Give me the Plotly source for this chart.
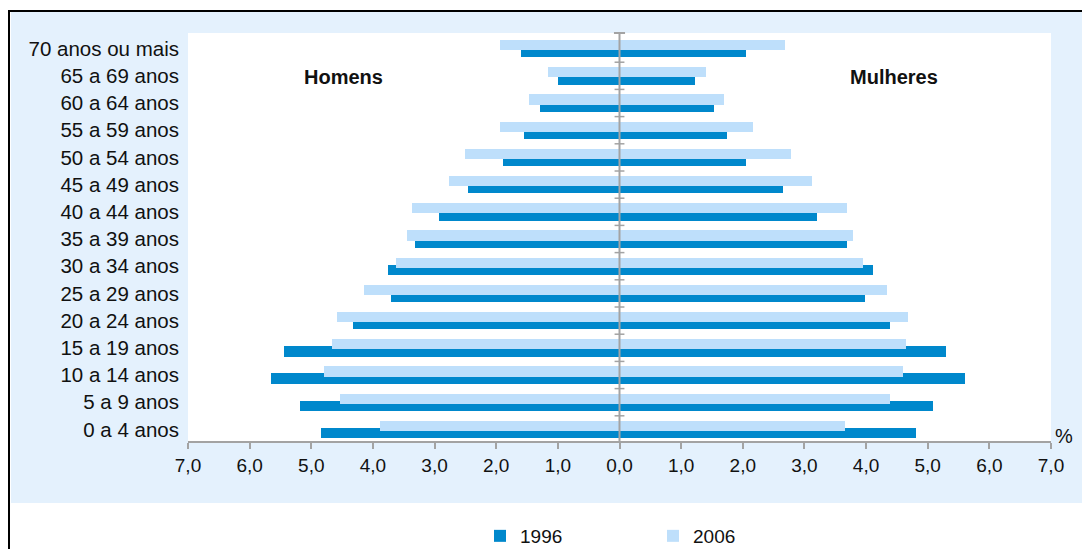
import plotly.graph_objects as go

# Age groups, bottom to top
age_groups = [
    "0 a 4 anos", "5 a 9 anos", "10 a 14 anos", "15 a 19 anos", "20 a 24 anos",
    "25 a 29 anos", "30 a 34 anos", "35 a 39 anos", "40 a 44 anos", "45 a 49 anos",
    "50 a 54 anos", "55 a 59 anos", "60 a 64 anos", "65 a 69 anos", "70 anos ou mais",
]

# Share of total population (%)
homens_1996 = [4.84, 5.18, 5.66, 5.44, 4.32, 3.71, 3.75, 3.32, 2.93, 2.46, 1.89, 1.55, 1.29, 0.99, 1.59]
homens_2006 = [3.88, 4.53, 4.79, 4.66, 4.58, 4.14, 3.63, 3.45, 3.37, 2.76, 2.50, 1.94, 1.47, 1.16, 1.94]
mulheres_1996 = [4.81, 5.08, 5.60, 5.30, 4.39, 3.99, 4.12, 3.69, 3.21, 2.65, 2.05, 1.74, 1.53, 1.22, 2.05]
mulheres_2006 = [3.65, 4.38, 4.60, 4.64, 4.68, 4.34, 3.95, 3.78, 3.69, 3.13, 2.78, 2.17, 1.69, 1.40, 2.69]

x_ticks = [-7, -6, -5, -4, -3, -2, -1, 0, 1, 2, 3, 4, 5, 6, 7]
x_tick_text = [f"{abs(v)},0" for v in x_ticks]

DARK = "#0088CC"
LIGHT = "#BEDFFB"
PANEL = "#E4F1FD"
GRAY = "#A3A3A3"
FONT = "Liberation Sans, Arial, sans-serif"

W, H = 1082, 549
ML, MR, MT, MB = 188, 31, 33, 108
PW, PH = W - ML - MR, H - MT - MB


def px_x(p):
    return (p - ML) / PW


def px_y(p):
    return (H - MB - p) / PH


pos = list(range(len(age_groups)))
bar_w = 0.38

fig = go.Figure()
fig.add_trace(go.Bar(y=pos, x=[-v for v in homens_1996], orientation="h", name="1996",
                     legendgroup="1996", marker=dict(color=DARK, line=dict(width=0)),
                     width=bar_w, offset=-0.32, hoverinfo="skip"))
fig.add_trace(go.Bar(y=pos, x=mulheres_1996, orientation="h", name="1996",
                     legendgroup="1996", showlegend=False,
                     marker=dict(color=DARK, line=dict(width=0)),
                     width=bar_w, offset=-0.32, hoverinfo="skip"))
fig.add_trace(go.Bar(y=pos, x=[-v for v in homens_2006], orientation="h", name="2006",
                     legendgroup="2006", marker=dict(color=LIGHT, line=dict(width=0)),
                     width=bar_w, offset=-0.06, hoverinfo="skip"))
fig.add_trace(go.Bar(y=pos, x=mulheres_2006, orientation="h", name="2006",
                     legendgroup="2006", showlegend=False,
                     marker=dict(color=LIGHT, line=dict(width=0)),
                     width=bar_w, offset=-0.06, hoverinfo="skip"))

shapes = [
    # light blue frame panel
    dict(type="rect", xref="paper", yref="paper", x0=px_x(11), x1=px_x(1090),
         y0=px_y(503), y1=px_y(12), fillcolor=PANEL, line=dict(width=0), layer="below"),
    # white plotting area
    dict(type="rect", xref="paper", yref="paper", x0=0, x1=1, y0=0, y1=1,
         fillcolor="white", line=dict(width=0), layer="below"),
    # black frame edges (top and left)
    dict(type="line", xref="paper", yref="paper", x0=px_x(8), x1=px_x(1090),
         y0=px_y(11), y1=px_y(11), line=dict(color="black", width=2)),
    dict(type="line", xref="paper", yref="paper", x0=px_x(9), x1=px_x(9),
         y0=px_y(11), y1=px_y(560), line=dict(color="black", width=2)),
    # central axis
    dict(type="line", xref="x", yref="paper", x0=0, x1=0, y0=0, y1=1,
         line=dict(color=GRAY, width=2), layer="above"),
    dict(type="line", xref="x", yref="paper", x0=-0.09, x1=0.09, y0=1, y1=1,
         line=dict(color=GRAY, width=2), layer="above"),
]
# small marks between age groups on the central axis
for k in range(len(age_groups) - 1):
    shapes.append(dict(type="line", xref="x", yref="y", x0=-0.08, x1=0.08,
                       y0=k + 0.5, y1=k + 0.5, line=dict(color=GRAY, width=1.5),
                       layer="above"))

annotations = [
    dict(text="<b>Homens</b>", xref="paper", yref="paper", x=px_x(343), y=px_y(77),
         xanchor="center", yanchor="middle", showarrow=False,
         font=dict(size=20, color="#111111", family=FONT)),
    dict(text="<b>Mulheres</b>", xref="paper", yref="paper", x=px_x(894), y=px_y(77),
         xanchor="center", yanchor="middle", showarrow=False,
         font=dict(size=20, color="#111111", family=FONT)),
    dict(text="%", xref="paper", yref="paper", x=px_x(1064), y=px_y(436),
         xanchor="center", yanchor="middle", showarrow=False,
         font=dict(size=20, color="#111111", family=FONT)),
]

fig.update_layout(
    width=W, height=H,
    autosize=False,
    margin=dict(l=ML, r=MR, t=MT, b=MB, pad=0, autoexpand=False),
    paper_bgcolor="white",
    plot_bgcolor="white",
    barmode="overlay",
    bargap=0,
    font=dict(family=FONT, color="#111111", size=19),
    shapes=shapes,
    annotations=annotations,
    showlegend=True,
    legend=dict(orientation="h", x=px_x(480), xanchor="left", y=px_y(536),
                yanchor="middle", font=dict(size=19, color="#111111", family=FONT),
                entrywidth=128, bgcolor="rgba(0,0,0,0)", traceorder="normal"),
    xaxis=dict(range=[-7, 7], tickvals=x_ticks, ticktext=x_tick_text,
               showgrid=False, zeroline=False, showline=True, linecolor=GRAY,
               linewidth=2, ticks="outside", ticklen=6, tickwidth=2, tickcolor=GRAY,
               automargin=False,
               tickfont=dict(size=19, color="#111111", family=FONT), fixedrange=True),
    yaxis=dict(range=[-0.426, 14.574], tickvals=pos, ticktext=age_groups,
               showgrid=False, zeroline=False, showline=False, ticks="",
               ticklabelstandoff=8, automargin=False,
               tickfont=dict(size=20.5, color="#111111", family=FONT), fixedrange=True),
)

fig.write_html("out.html", config={"displayModeBar": False, "responsive": False})
